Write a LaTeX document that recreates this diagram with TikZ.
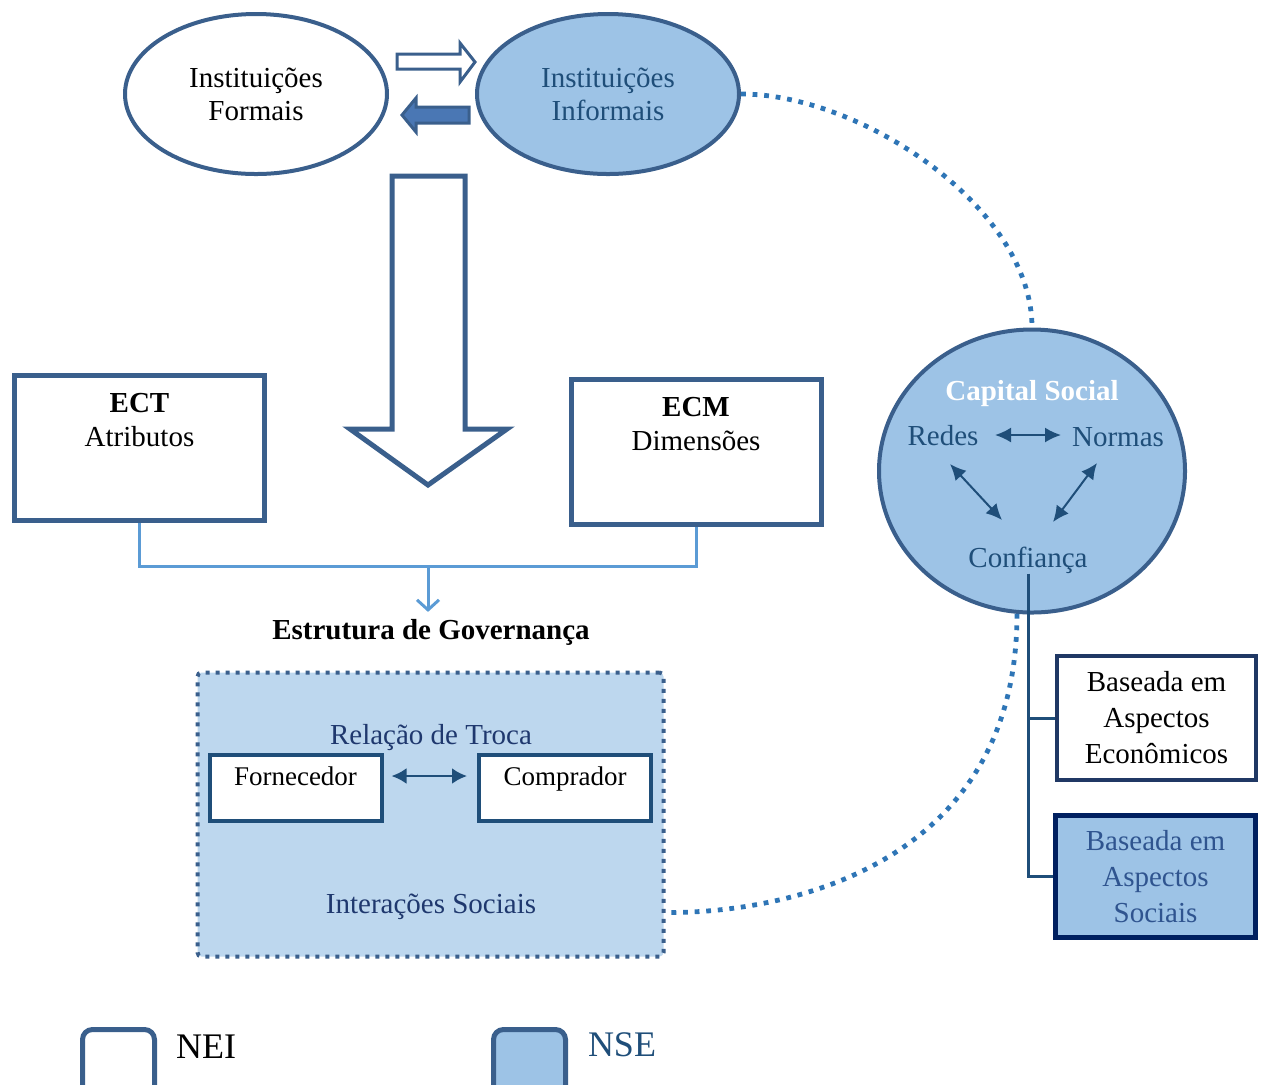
\documentclass[tikz,border=0pt]{standalone}
\usepackage{fontspec}
\setmainfont{Liberation Serif}
\usepackage{xcolor}
\usetikzlibrary{shapes.geometric,arrows.meta,positioning}
\tikzset{>=stealth}

\definecolor{bordblue}{RGB}{58,95,140}
\definecolor{nsefill}{RGB}{157,195,230}
\definecolor{govfill}{RGB}{189,215,238}
\definecolor{linkblue}{RGB}{91,155,213}
\definecolor{dotblue}{RGB}{46,117,182}
\definecolor{darktext}{RGB}{31,78,121}
\definecolor{navytext}{RGB}{31,56,110}
\definecolor{navy}{RGB}{32,56,100}
\definecolor{navybord}{RGB}{0,32,96}
\definecolor{socialtext}{RGB}{47,84,143}
\definecolor{arrowfill}{RGB}{74,119,180}

\tikzset{
  inst/.style={ellipse, draw=bordblue, line width=2pt, minimum width=131pt, minimum height=80pt, align=center, font=\fontsize{14.5}{16.5}\selectfont},
  teobox/.style={rectangle, draw=bordblue, line width=2.5pt, fill=white, minimum width=125pt, minimum height=72.5pt},
  boxlabel/.style={anchor=north, inner sep=0pt, align=center, font=\fontsize{14.5}{17}\selectfont},
  govlink/.style={draw=linkblue, line width=1.5pt},
  tradebox/.style={rectangle, draw=darktext, line width=2pt, fill=white, minimum width=86pt, minimum height=33pt, text height=9pt, text depth=11.5pt, font=\fontsize{13.5}{16}\selectfont},
  tradearrow/.style={{Latex[length=7.5pt,width=8pt]}-{Latex[length=7.5pt,width=8pt]}, draw=darktext, line width=1.4pt},
  cstext/.style={inner sep=0pt, text=darktext, font=\fontsize{14.5}{17}\selectfont},
  csarrow/.style={{Latex[length=8pt,width=7.5pt]}-{Latex[length=8pt,width=7.5pt]}, draw=darktext, line width=1pt},
  aspbox/.style={rectangle, line width=2pt, align=center, minimum width=99.5pt, minimum height=62pt, font=\fontsize{14.5}{18}\selectfont},
  treeline/.style={draw=darktext, line width=1.5pt},
  dotlink/.style={draw=dotblue, line width=2.4pt, dash pattern=on 2.4pt off 3.4pt},
  legendbox/.style={rectangle, rounded corners=5pt, draw=bordblue, line width=2.5pt, minimum width=36pt, minimum height=35pt},
}

\begin{document}
\begin{tikzpicture}[x=0.5pt, y=-0.5pt]
    \useasboundingbox (0,0) rectangle (1261,1084);

    \node[inst] (formais) at (256,94) {Instituições\\Formais};
    \node[inst, fill=nsefill, text=darktext] (informais) at (608,94) {Instituições\\Informais};

    \draw[bordblue, line width=1.5pt, fill=white] (397,54) -- (460,54) -- (460,43) -- (475,62) -- (460,82) -- (460,69) -- (397,69) -- cycle;
    \draw[bordblue, line width=1.5pt, fill=arrowfill] (469,107) -- (416,107) -- (416,98) -- (402,115) -- (416,132) -- (416,123) -- (469,123) -- cycle;

    \draw[bordblue, line width=2.5pt, fill=white] (392,176) -- (465,176) -- (465,429) -- (507,429) -- (428,485) -- (350,429) -- (392,429) -- cycle;

    \node[teobox] (ect) at (139.5,448) {};
    \node[boxlabel] (ectlabel) at (139.5,393) {\textbf{ECT}\\Atributos};
    \node[teobox] (ecm) at (696,452) {};
    \node[boxlabel] (ecmlabel) at (696,397) {\textbf{ECM}\\Dimensões};

    \coordinate (govjoin) at (428,566);
    \node[font=\bfseries\fontsize{14.5}{17}\selectfont] (govtitle) at (431,632) {Estrutura de Governança};
    \draw[govlink] (ect.south) |- (govjoin) -| (ecm.south);
    \draw[govlink, -{Straight Barb[length=5pt,width=11pt]}] (govjoin) -- (govtitle.north -| govjoin);

    \node[draw=bordblue, fill=govfill, line width=2pt, dash pattern=on 2pt off 3pt, rounded corners=2pt, minimum width=233pt, minimum height=142pt] (gov) at (430.5,814.5) {};
    \node[text=navytext, font=\fontsize{14.5}{17}\selectfont] (troca) at (431,738) {Relação de Troca};
    \node[tradebox] (forn) at (295.5,787.5) {Fornecedor};
    \node[tradebox] (comp) at (565,788) {Comprador};
    \draw[tradearrow] ([shift={(8,-11.5)}]forn.east) -- ([shift={(-10,-12)}]comp.west);
    \node[text=navytext, font=\fontsize{14.5}{17}\selectfont] (interacoes) at (431,907) {Interações Sociais};

    \node[ellipse, draw=bordblue, fill=nsefill, line width=2pt, minimum width=153pt, minimum height=141.5pt] (capital) at (1032,471) {};
    \node[cstext, text=white, font=\bfseries\fontsize{14.5}{17}\selectfont] (cstitle) at (1032,394) {Capital Social};
    \node[cstext] (redes) at (943,436) {Redes};
    \node[cstext] (normas) at (1118,437) {Normas};
    \node[cstext] (confianca) at (1028,560) {Confiança};
    \draw[csarrow] ([shift={(52,-1)}]redes.center) -- ([shift={(-57,-2)}]normas.center);
    \draw[csarrow] ([shift={(7,28)}]redes.center) -- ([shift={(-26,-40)}]confianca.center);
    \draw[csarrow] ([shift={(-21,26)}]normas.center) -- ([shift={(25,-38)}]confianca.center);

    \node[aspbox, draw=navy, fill=white] (econ) at (1156.5,718) {Baseada em\\Aspectos\\Econômicos};
    \node[aspbox, draw=navybord, line width=2.5pt, fill=nsefill, text=socialtext, minimum width=100pt, minimum height=61pt] (social) at (1155.5,876.5) {Baseada em\\Aspectos\\Sociais};
    \draw[treeline] (confianca.south) -- (confianca.south |- social.west) -- (social.west);
    \draw[treeline] (confianca.south |- econ.west) -- (econ.west);

    \draw[dotlink] (informais.east) .. controls +(120,0) and +(0,-120) .. (capital.north);
    \draw[dotlink] (capital.-96) .. controls +(0,250) and +(120,0) .. ([shift={(4,98)}]gov.east);

    \node[legendbox] (neibox) at (118.5,1064.5) {};
    \node[font=\fontsize{18}{20}\selectfont] (nei) at (206,1047) {NEI};
    \node[legendbox, fill=nsefill] (nsebox) at (529.5,1064.5) {};
    \node[text=darktext, font=\fontsize{18}{20}\selectfont] (nse) at (622,1045) {NSE};
\end{tikzpicture}
\end{document}
